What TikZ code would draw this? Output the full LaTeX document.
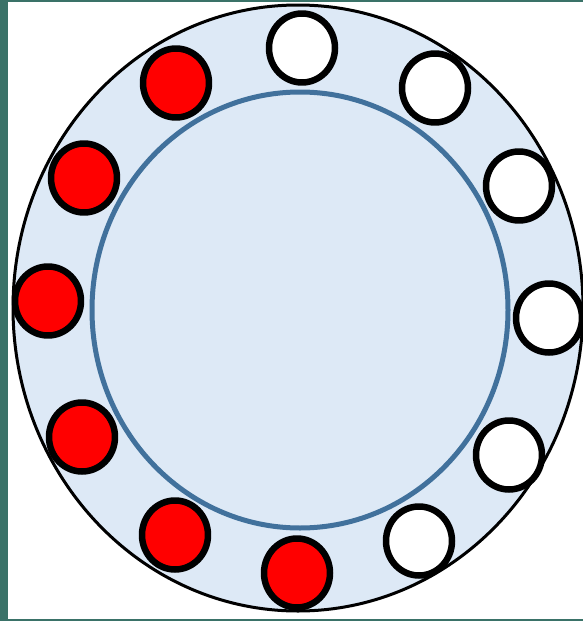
\documentclass[tikz,border=0pt]{standalone}
\usepackage{tikz}
\usetikzlibrary{calc}
\definecolor{ringfill}{RGB}{221,233,246}
\definecolor{ringblue}{RGB}{65,113,156}
\definecolor{frameteal}{RGB}{58,114,104}
\definecolor{beadred}{RGB}{255,0,0}
\tikzset{
 beadwhite/.style={fill=white,draw=black,line width=6.5pt},
 beadfull/.style={fill=beadred,draw=black,line width=6.5pt}
}
\begin{document}
\begin{tikzpicture}[x=1pt,y=-1pt,line cap=round,line join=round]
 \useasboundingbox (0,0) rectangle (583,621);
 \clip (0,0) rectangle (583,621);
 % Rahmen links, oben, unten.
 \fill[frameteal] (0,0) rectangle (583,621);
 \fill[white] (8,1.5) rectangle (583,619);
 % Außenring.
 \filldraw[fill=ringfill,draw=black,line width=3pt]
  (298,308) ellipse (285 and 303);
 % Innenkreis.
 \filldraw[fill=ringfill,draw=ringblue,line width=5pt]
  (300,310) ellipse (208 and 218);
 % Kugeln: weiß rechts, rot links.
 \foreach \x/\y in {302/48,435/88,519/186,549/318,509/455,419/541}
  \filldraw[beadwhite] (\x,\y) ellipse (33 and 34.5);
 \foreach \x/\y in {297/573,175/535,82/437,48/301,84/178,176/83}
  \filldraw[beadfull] (\x,\y) ellipse (33 and 34.5);
\end{tikzpicture}
\end{document}
